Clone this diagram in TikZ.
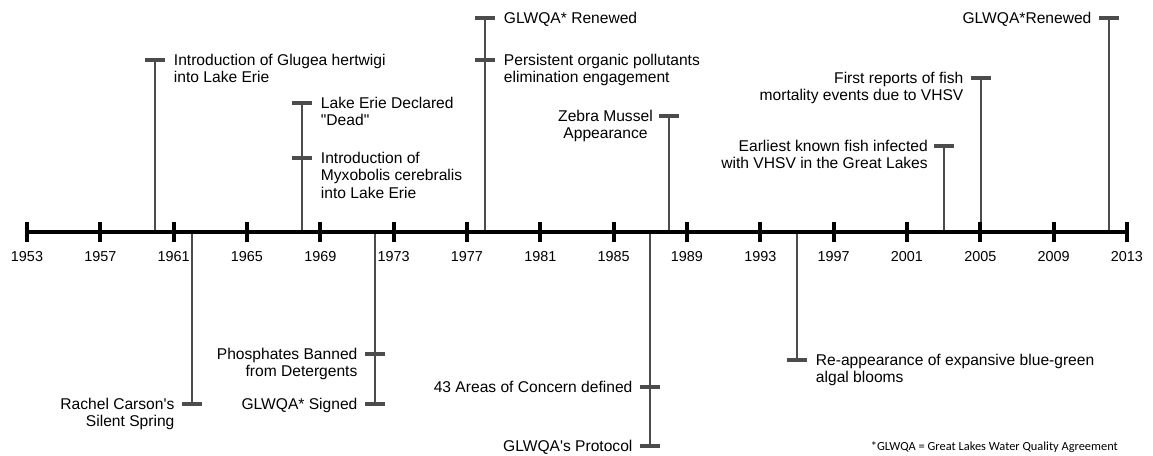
\documentclass[tikz,border=0pt]{standalone}
\usepackage{fontspec}
\setmainfont{Liberation Sans}[Ligatures=TeXOff]
\newfontfamily\notefont{Carlito}
\begin{document}
\begin{tikzpicture}[x=0.75pt, y=-0.75pt, line join=round,
	stem/.style={draw=black!70, line width=1.5pt},
	endbar/.style={draw=black!70, line width=3pt},
	lab/.style={inner sep=0pt, font=\fontsize{11.7}{13}\selectfont},
	labl/.style={lab, anchor=north west, align=left},
	labr/.style={lab, anchor=north east, align=right}]
	\useasboundingbox (0,0) rectangle (1153,455);
	% stems and bars of the events
	\path
	(155,232) coordinate (a60) (155,60) coordinate (c60)
	(192,232) coordinate (a62) (192,404) coordinate (c62)
	(302,232) coordinate (a68) (302,103) coordinate (c68a) (302,158) coordinate (c68b)
	(375,232) coordinate (a72) (375,354) coordinate (c72a) (375,404) coordinate (c72b)
	(485,232) coordinate (a78) (485,18) coordinate (c78a) (485,60) coordinate (c78b)
	(650,232) coordinate (a87) (650,387) coordinate (c87a) (650,446) coordinate (c87b)
	(669,232) coordinate (a88) (669,116) coordinate (c88)
	(797,232) coordinate (a95) (797,360) coordinate (c95)
	(944,232) coordinate (a03) (944,146) coordinate (c03)
	(981,232) coordinate (a05) (981,78) coordinate (c05)
	(1109,232) coordinate (a12) (1109,18) coordinate (c12);
	\draw[stem] (a60) -- (c60) (a62) -- (c62) (a68) -- (c68a) (a72) -- (c72b)
	(a78) -- (c78a) (a87) -- (c87b) (a88) -- (c88) (a95) -- (c95)
	(a03) -- (c03) (a05) -- (c05) (a12) -- (c12);
	\foreach \p in {c60,c62,c68a,c68b,c72a,c72b,c78a,c78b,c87a,c87b,c88,c95,c03,c05,c12}
		\draw[endbar] ([xshift=-7.5pt]\p) -- ([xshift=7.5pt]\p);
	% axis
	\path (27,232) coordinate (L) (1127,232) coordinate (R);
	\draw[line width=3.5pt] (L) -- (R);
	\foreach \k in {0,...,15}{
		\pgfmathtruncatemacro{\yr}{1953+4*\k}
		\draw[line width=3pt] (27+73.33*\k,222) -- (27+73.33*\k,242);
		\node[font=\fontsize{10.8}{12}\selectfont] (y\yr) at (27+73.33*\k,257) {\yr};
	}
	% labels
	\node[labl] (t60) at ([xshift=14pt,yshift=4.5pt]c60) {Introduction of Glugea hertwigi\\into Lake Erie};
	\node[labr] (t62) at ([xshift=-13pt,yshift=4.5pt]c62) {Rachel Carson's\\Silent Spring};
	\node[labl] (t68a) at ([xshift=14pt,yshift=4.5pt]c68a) {Lake Erie Declared\\"Dead"};
	\node[labl] (t68b) at ([xshift=14pt,yshift=4.5pt]c68b) {Introduction of\\Myxobolis cerebralis\\into Lake Erie};
	\node[labr] (t72a) at ([xshift=-13pt,yshift=4.5pt]c72a) {Phosphates Banned\\from Detergents};
	\node[labr] (t72b) at ([xshift=-13pt,yshift=4.5pt]c72b) {GLWQA* Signed};
	\node[labl] (t78a) at ([xshift=14pt,yshift=4.5pt]c78a) {GLWQA* Renewed};
	\node[labl] (t78b) at ([xshift=14pt,yshift=4.5pt]c78b) {Persistent organic pollutants\\elimination engagement};
	\node[labr] (t87a) at ([xshift=-13pt,yshift=4.5pt]c87a) {43 Areas of Concern defined};
	\node[labr] (t87b) at ([xshift=-13pt,yshift=4.5pt]c87b) {GLWQA's Protocol};
	\node[lab, anchor=north east, align=center] (t88) at ([xshift=-12pt,yshift=4.5pt]c88) {Zebra Mussel\\Appearance};
	\node[labl] (t95) at ([xshift=14pt,yshift=4.5pt]c95) {Re-appearance of expansive blue-green\\algal blooms};
	\node[labr] (t03) at ([xshift=-12pt,yshift=4.5pt]c03) {Earliest known fish infected\\with VHSV in the Great Lakes};
	\node[labr] (t05) at ([xshift=-13pt,yshift=4.5pt]c05) {First reports of fish\\mortality events due to VHSV};
	\node[labr] (t12) at ([xshift=-13pt,yshift=4.5pt]c12) {GLWQA*Renewed};
	\node[anchor=east, inner sep=0pt, font=\notefont\fontsize{9.3}{10}\selectfont] (note) at (1118,447) {*GLWQA = Great Lakes Water Quality Agreement};
\end{tikzpicture}
\end{document}
